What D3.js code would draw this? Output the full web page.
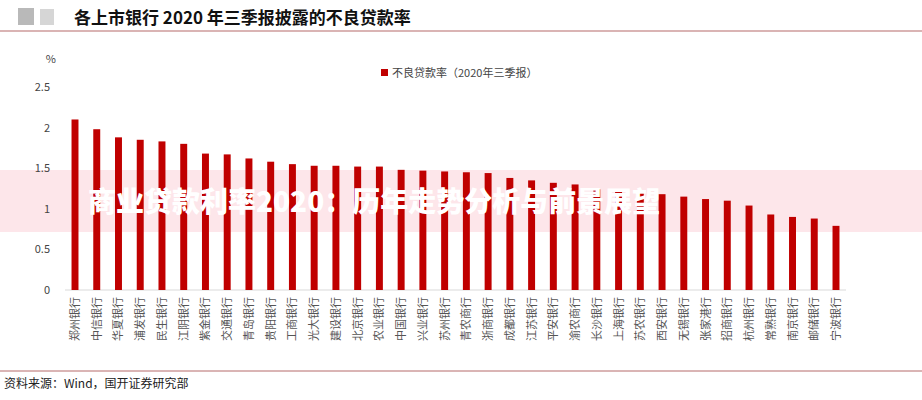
<!DOCTYPE html>
<html><head><meta charset="utf-8">
<script src="https://cdn.jsdelivr.net/npm/d3@7"></script>
<style>body{margin:0;background:#fff}</style></head>
<body><svg id="c" width="922" height="400"></svg>
<script>
const banks=["郑州银行","中信银行","华夏银行","浦发银行","民生银行","江阴银行","紫金银行","交通银行","青岛银行","贵阳银行","工商银行","光大银行","建设银行","北京银行","农业银行","中国银行","兴业银行","苏州银行","青农商行","浙商银行","成都银行","江苏银行","平安银行","渝农商行","长沙银行","上海银行","苏农银行","西安银行","无锡银行","张家港行","招商银行","杭州银行","常熟银行","南京银行","邮储银行","宁波银行"];
const npl=[2.10,1.98,1.88,1.85,1.83,1.80,1.68,1.67,1.62,1.58,1.55,1.53,1.53,1.52,1.52,1.48,1.47,1.46,1.45,1.44,1.38,1.35,1.32,1.30,1.24,1.24,1.19,1.18,1.15,1.12,1.10,1.04,0.93,0.90,0.88,0.79];
const yTicks=[0,0.5,1,1.5,2,2.5];
const svg=d3.select("#c");
const F="'Noto Sans CJK SC','Noto Sans',sans-serif";
svg.append("rect").attr("x",18).attr("y",8).attr("width",16).attr("height",17).attr("fill","#8a8a8a").attr("opacity",0.6);
svg.append("rect").attr("x",40).attr("y",9).attr("width",14).attr("height",16).attr("fill","#bbb").attr("opacity",0.6);
svg.append("text").attr("x",74).attr("y",24).attr("font-family",F).attr("font-weight","bold").attr("font-size",17).attr("fill","#111").text("各上市银行 2020 年三季报披露的不良贷款率");
svg.append("line").attr("x1",0).attr("x2",922).attr("y1",31).attr("y2",31).attr("stroke","#b56a6a").attr("stroke-width",1.2);
// band behind
svg.append("rect").attr("x",0).attr("y",170).attr("width",922).attr("height",62).attr("fill","#fde6ea");
const x=d3.scaleBand().domain(banks).range([65,846]).paddingInner(0.68).paddingOuter(0.3);
const y=d3.scaleLinear().domain([0,2.5]).range([290,87]);
svg.append("line").attr("x1",65).attr("x2",846).attr("y1",y(0)).attr("y2",y(0)).attr("stroke","#d9d9d9");
svg.append("g").selectAll("text").data(yTicks).join("text").attr("x",50).attr("y",d=>y(d)+4).attr("text-anchor","end").attr("font-family",F).attr("font-size",11).attr("fill","#444").text(d=>d);
svg.append("text").attr("x",56).attr("y",63).attr("text-anchor","end").attr("font-family",F).attr("font-size",11).attr("fill","#444").text("%");
svg.append("g").selectAll("rect").data(npl).join("rect").attr("x",(d,i)=>x(banks[i])).attr("width",x.bandwidth()).attr("y",d=>y(d)).attr("height",d=>y(0)-y(d)).attr("fill","#c00000");
svg.append("g").selectAll("text").data(banks).join("text").attr("transform",d=>`translate(${x(d)+x.bandwidth()/2+4},297) rotate(-90)`).attr("text-anchor","end").attr("font-family",F).attr("font-size",11).attr("fill","#555").text(d=>d);
svg.append("rect").attr("x",381).attr("y",69).attr("width",7).attr("height",7).attr("fill","#c00000");
svg.append("text").attr("x",392).attr("y",77).attr("font-family",F).attr("font-size",11).attr("fill","#444").text("不良贷款率（2020年三季报）");
svg.append("line").attr("x1",0).attr("x2",922).attr("y1",371).attr("y2",371).attr("stroke","#b56a6a").attr("stroke-width",1);
svg.append("text").attr("x",4).attr("y",388).attr("font-family",F).attr("font-size",12).attr("fill","#222").text("资料来源：Wind，国开证券研究部");
svg.append("text").attr("x",88).attr("y",212).attr("font-family",F).attr("font-weight","900").attr("font-size",28).attr("fill","#fff").text("商业贷款利率2020：历年走势分析与前景展望");
</script></body></html>
